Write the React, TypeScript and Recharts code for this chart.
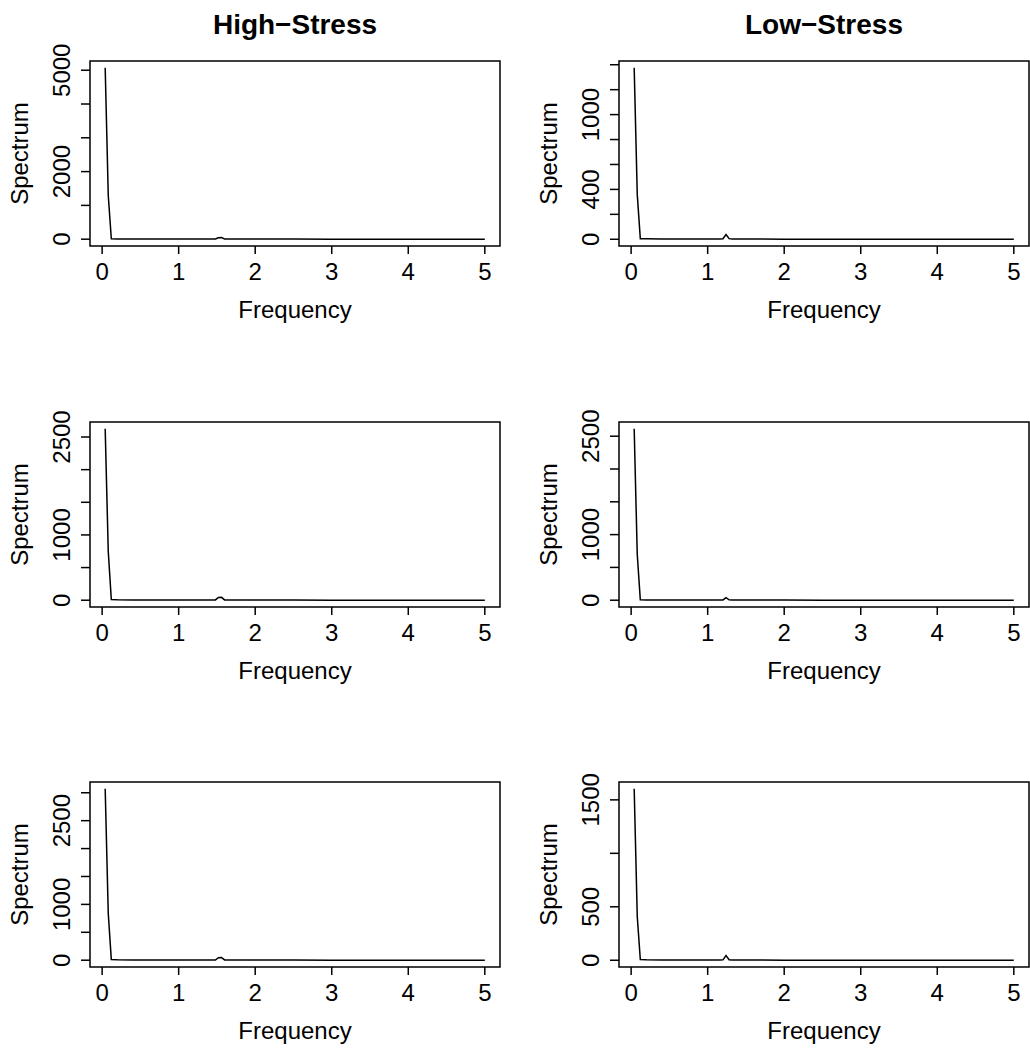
import { LineChart, Line, XAxis, YAxis, ReferenceArea, Label } from 'recharts';

const FONT = "'Liberation Sans', Arial, Helvetica, sans-serif";

// frequencies sampled along each column's spectrum (sparse reading of the curve)
const HIGH_FREQ = [0.04, 0.08, 0.12, 0.2, 0.4, 0.6, 0.8, 1.0, 1.2, 1.44, 1.48, 1.52, 1.56, 1.6, 1.64, 2.0, 2.5, 3.0, 3.5, 4.0, 4.5, 5.0];
const LOW_FREQ = [0.04, 0.08, 0.12, 0.2, 0.4, 0.6, 0.8, 1.0, 1.16, 1.2, 1.24, 1.28, 1.32, 1.6, 2.0, 2.5, 3.0, 3.5, 4.0, 4.5, 5.0];

// High-Stress spectra
const HIGH_1 = [5070, 1300, 12, 8, 6, 5, 4, 4, 3, 3, 4, 44, 46, 6, 3, 2, 2, 1, 1, 1, 1, 1];
const HIGH_2 = [2625, 750, 10, 7, 5, 4, 4, 3, 3, 3, 4, 42, 44, 5, 3, 2, 2, 1, 1, 1, 1, 1];
const HIGH_3 = [3070, 840, 11, 7, 5, 4, 4, 3, 3, 3, 4, 45, 47, 5, 3, 2, 2, 1, 1, 1, 1, 1];

// Low-Stress spectra
const LOW_1 = [1375, 360, 5, 4, 3, 3, 2, 2, 2, 4, 38, 5, 2, 2, 1, 1, 1, 1, 1, 1, 1];
const LOW_2 = [2612, 700, 8, 5, 4, 3, 3, 3, 3, 5, 40, 6, 3, 2, 2, 1, 1, 1, 1, 1, 1];
const LOW_3 = [1603, 410, 6, 4, 3, 3, 2, 2, 2, 4, 44, 5, 2, 2, 1, 1, 1, 1, 1, 1, 1];

const X_TICKS = [0, 1, 2, 3, 4, 5];

const Y_TICKS_1L = [0, 1000, 2000, 3000, 4000, 5000];
const Y_LABELS_1L = [0, 2000, 5000];
const Y_TICKS_1R = [0, 200, 400, 600, 800, 1000, 1200, 1400];
const Y_LABELS_1R = [0, 400, 1000];
const Y_TICKS_2 = [0, 500, 1000, 1500, 2000, 2500];
const Y_LABELS_2 = [0, 1000, 2500];
const Y_TICKS_3L = [0, 500, 1000, 1500, 2000, 2500, 3000];
const Y_LABELS_3L = [0, 1000, 2500];
const Y_TICKS_3R = [0, 500, 1000, 1500];
const Y_LABELS_3R = [0, 500, 1500];

const COL_LEFT = [0, 515];
const BOX_LEFT = [90, 619];
const BOX_TOP = [61, 422, 782];
const BOX_W = 410;
const BOX_H = 185;
const CHART_H = 331;

type PanelProps = {
  col: number;
  row: number;
  freq: number[];
  values: number[];
  yTicks: number[];
  yLabels: number[];
};

function pad(lo: number, hi: number): [number, number] {
  const d = (hi - lo) * 0.04;
  return [lo - d, hi + d];
}

function Panel({ col, row, freq, values, yTicks, yLabels }: PanelProps) {
  const data = freq.map((f, i) => ({ f, s: values[i] }));
  const xDomain = pad(Math.min(...freq), Math.max(...freq));
  const yDomain = pad(Math.min(...values), Math.max(...values));
  const left = COL_LEFT[col];
  const yW = BOX_LEFT[col] - left;
  const width = 515;
  const top = BOX_TOP[row] - 61;

  const renderYTick = (props: any) => {
    const { x, y, payload } = props;
    if (!yLabels.includes(payload.value)) return <g />;
    return (
      <text x={x} y={y} transform={`rotate(-90, ${x}, ${y})`} textAnchor="middle" fontSize={24} fill="#000">
        {payload.value}
      </text>
    );
  };

  const renderXTick = (props: any) => {
    const { x, y, payload } = props;
    return (
      <text x={x} y={y} dy="0.71em" textAnchor="middle" fontSize={24} fill="#000">
        {payload.value}
      </text>
    );
  };

  return (
    <div style={{ position: 'absolute', left, top }}>
      <LineChart
        width={width}
        height={CHART_H}
        data={data}
        margin={{ top: 61, left: 0, bottom: 0, right: width - yW - BOX_W }}
      >
        <XAxis
          type="number"
          dataKey="f"
          domain={xDomain}
          ticks={X_TICKS}
          allowDataOverflow
          height={CHART_H - 61 - BOX_H}
          axisLine={false}
          tickSize={8}
          tickMargin={9}
          tickLine={{ stroke: '#000', strokeWidth: 1.5 }}
          tick={renderXTick}
        >
          <Label
            content={(p: any) => {
              const vb = p.viewBox;
              return (
                <text x={vb.x + vb.width / 2} y={vb.y + 72} textAnchor="middle" fontSize={24} fill="#000">
                  Frequency
                </text>
              );
            }}
          />
        </XAxis>
        <YAxis
          type="number"
          domain={yDomain}
          ticks={yTicks}
          allowDataOverflow
          width={yW}
          axisLine={false}
          tickSize={9}
          tickMargin={11}
          tickLine={{ stroke: '#000', strokeWidth: 1.5 }}
          tick={renderYTick}
        >
          <Label
            content={(p: any) => {
              const vb = p.viewBox;
              const lx = vb.x + vb.width - 62;
              const ly = vb.y + vb.height / 2;
              return (
                <text x={lx} y={ly} transform={`rotate(-90, ${lx}, ${ly})`} textAnchor="middle" fontSize={24} fill="#000">
                  Spectrum
                </text>
              );
            }}
          />
        </YAxis>
        <ReferenceArea
          x1={xDomain[0]}
          x2={xDomain[1]}
          y1={yDomain[0]}
          y2={yDomain[1]}
          fill="none"
          stroke="#000"
          strokeWidth={1.5}
          ifOverflow="visible"
        />
        <Line
          type="linear"
          dataKey="s"
          stroke="#000"
          strokeWidth={1.5}
          dot={false}
          activeDot={false}
          isAnimationActive={false}
        />
      </LineChart>
    </div>
  );
}

export default function App() {
  return (
    <div
      style={{
        position: 'absolute',
        left: 0,
        top: 0,
        width: 1030,
        height: 1052,
        background: '#fff',
        fontFamily: FONT,
        overflow: 'hidden',
      }}
    >
      <svg width={1030} height={50} style={{ position: 'absolute', left: 0, top: 0 }}>
        <text x={BOX_LEFT[0] + BOX_W / 2} y={34} textAnchor="middle" fontSize={28} fontWeight="bold" fill="#000">
          High−Stress
        </text>
        <text x={BOX_LEFT[1] + BOX_W / 2} y={34} textAnchor="middle" fontSize={28} fontWeight="bold" fill="#000">
          Low−Stress
        </text>
      </svg>
      <Panel col={0} row={0} freq={HIGH_FREQ} values={HIGH_1} yTicks={Y_TICKS_1L} yLabels={Y_LABELS_1L} />
      <Panel col={1} row={0} freq={LOW_FREQ} values={LOW_1} yTicks={Y_TICKS_1R} yLabels={Y_LABELS_1R} />
      <Panel col={0} row={1} freq={HIGH_FREQ} values={HIGH_2} yTicks={Y_TICKS_2} yLabels={Y_LABELS_2} />
      <Panel col={1} row={1} freq={LOW_FREQ} values={LOW_2} yTicks={Y_TICKS_2} yLabels={Y_LABELS_2} />
      <Panel col={0} row={2} freq={HIGH_FREQ} values={HIGH_3} yTicks={Y_TICKS_3L} yLabels={Y_LABELS_3L} />
      <Panel col={1} row={2} freq={LOW_FREQ} values={LOW_3} yTicks={Y_TICKS_3R} yLabels={Y_LABELS_3R} />
    </div>
  );
}
